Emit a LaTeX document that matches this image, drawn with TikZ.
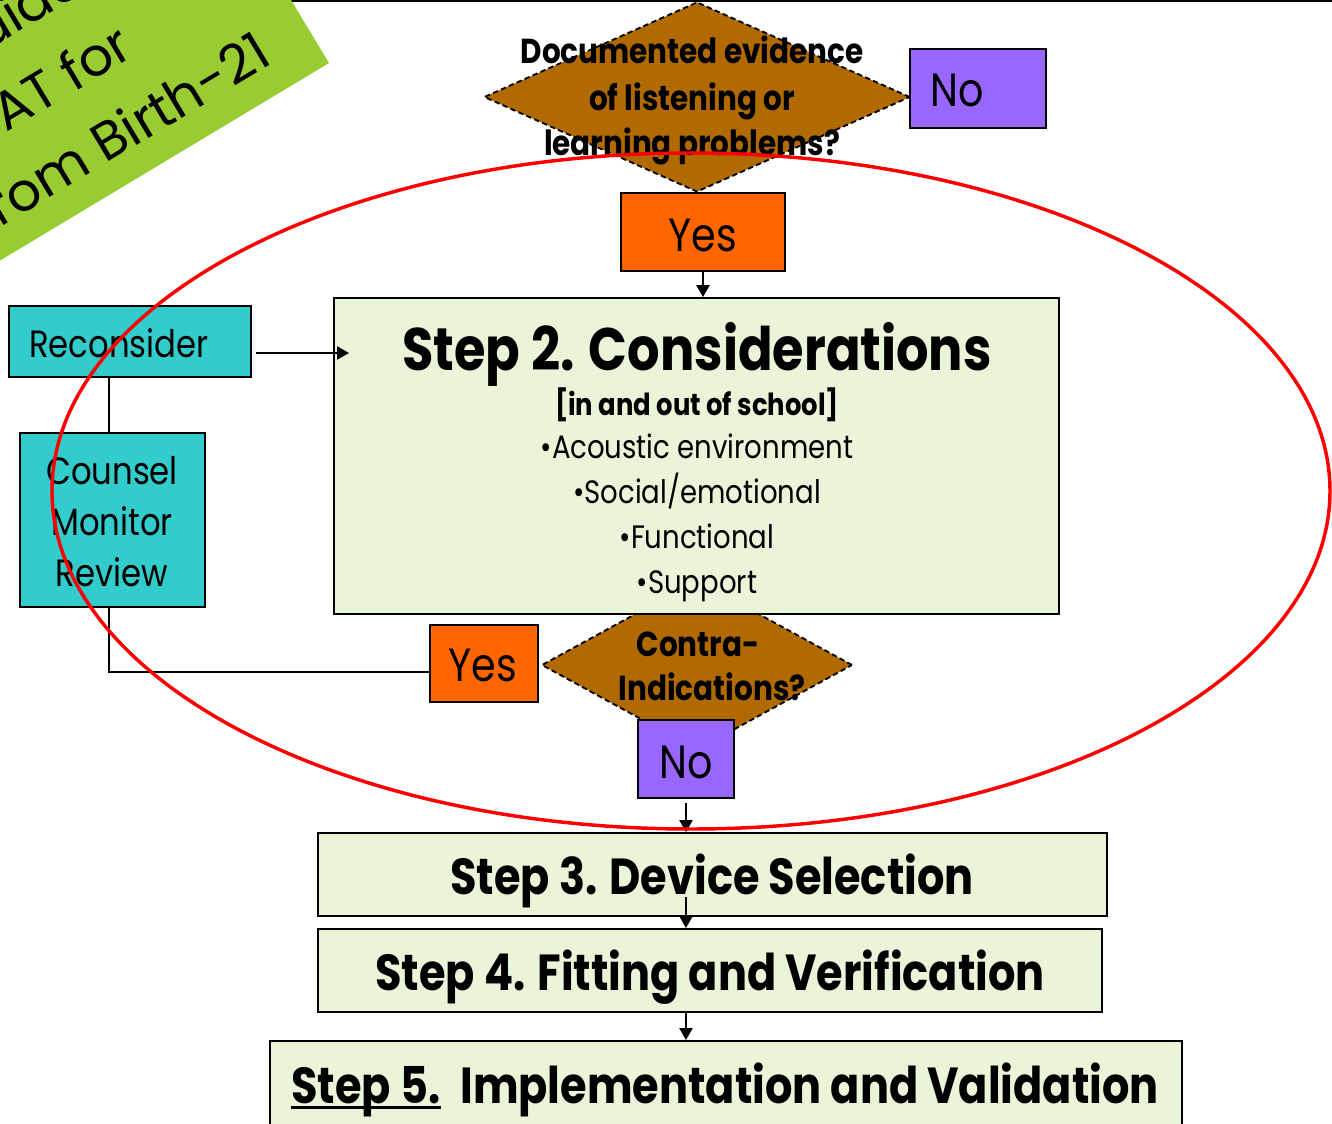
\documentclass[tikz,border=0pt]{standalone}
\usepackage{fontspec}
\setmainfont{Poppins}[FakeStretch=0.85]
\newfontfamily\bannerfont{Poppins}
\usetikzlibrary{arrows.meta,shapes.geometric,fit,calc}

\definecolor{bannergreen}{RGB}{153,204,51}
\definecolor{decbrown}{RGB}{176,106,0}
\definecolor{nopurple}{RGB}{153,102,255}
\definecolor{yesorange}{RGB}{255,102,0}
\definecolor{tealbox}{RGB}{51,204,204}
\definecolor{stepgreen}{RGB}{234,244,216}

\tikzset{
  box/.style={draw=black, line width=1.5pt, inner sep=0pt},
  decision/.style={diamond, fill=decbrown, draw=black, line width=1.4pt,
    dash pattern=on 4pt off 2.5pt, inner sep=0pt},
  arr/.style={-{Triangle[length=9pt,width=10pt]}, line width=1.1pt},
  link/.style={line width=1.1pt},
  txt/.style={inner sep=0pt, anchor=base},
  fbanner/.style={font=\bannerfont\fontsize{40}{40}\selectfont,
    rotate=31, inner sep=0pt, anchor=base east},
  fq/.style={font=\bfseries\fontsize{26}{26}\selectfont},
  fyn/.style={font=\fontsize{35}{35}\selectfont},
  fside/.style={font=\fontsize{28.5}{28.5}\selectfont},
  ftitle/.style={font=\bfseries\fontsize{45}{45}\selectfont},
  fsub/.style={font=\bfseries\fontsize{22.8}{22.8}\selectfont},
  fitem/.style={font=\fontsize{24.3}{24.3}\selectfont},
  fstep/.style={font=\bfseries\fontsize{38}{38}\selectfont},
}

\begin{document}
\begin{tikzpicture}[x=0.75pt,y=-0.75pt]
\useasboundingbox (0,0) rectangle (1332,1124);
\begin{scope}
\clip (0,0) rectangle (1332,1124);
\fill[white] (0,0) rectangle (1332,1124);

% rule along the top edge
\draw[line width=1.5pt] (0,1) -- (1332,1);

% tilted title banner
\fill[bannergreen] (329,63) -- (162,-214) -- (-394,120) -- (-228,397.5) -- cycle;
\node[fbanner] (ban1) at (86,-8.5) {Guide};
\node[fbanner] (ban2) at (135.7,55) {AT for};
\node[fbanner] (ban3) at (274.4,62.6) {from Birth-21};

% first decision
\node[decision, minimum width=319.5pt, minimum height=142.5pt] (dec1) at (697,97) {};
\node[fq, txt] (q1a) at (692,64) {Documented evidence};
\node[fq, txt] (q1b) at (692,110) {of listening or};
\node[fq, txt] (q1c) at (692,155) {learning problems?};

\node[box, fill=nopurple, line width=2pt, fit={(910,49) (1046,128)}] (no1) {};
\node[fyn, txt, anchor=base west] (no1t) at (930,107) {No};

\node[box, fill=yesorange, fit={(621,193) (785,271)}] (yes1) {};
\node[fyn, txt] (yes1t) at (703,251) {Yes};

% second decision (partly hidden behind the boxes)
\node[decision, minimum width=233pt, minimum height=127.5pt] (dec2) at (697,665) {};

% step 2
\node[box, fill=stepgreen, fit={(334,298) (1059,614)}] (step2) {};
\node[ftitle, txt] (s2t) at (697,370) {Step 2. Considerations};
\node[fsub, txt] (s2s) at (697,415) {[in and out of school]};
\node[fitem, txt] (s2a) at (697,458) {•Acoustic environment};
\node[fitem, txt] (s2b) at (697,503) {•Social/emotional};
\node[fitem, txt] (s2c) at (697,548) {•Functional};
\node[fitem, txt] (s2d) at (697,593) {•Support};

\draw[arr] (yes1.south) -- (step2.north -| yes1.south);

\node[fq, txt] (q2a) at (698,656) {Contra-};
\node[fq, txt] (q2b) at (712,700) {Indications?};

\node[box, fill=nopurple, fit={(638,720) (734,798)}] (no2) {};
\node[fyn, txt] (no2t) at (686,778) {No};

\node[box, fill=yesorange, fit={(430,625) (538,702)}] (yes2) {};
\node[fyn, txt] (yes2t) at (483,681) {Yes};

% side loop
\node[box, fill=tealbox, fit={(9,306) (251,377)}] (recon) {};
\node[fside, txt, anchor=base west] (recont) at (29,357) {Reconsider};

\node[box, fill=tealbox, fit={(20,433) (205,607)}] (counsel) {};
\node[fside, txt] (c1) at (112,484) {Counsel};
\node[fside, txt] (c2) at (112,535) {Monitor};
\node[fside, txt] (c3) at (112,586) {Review};

\coordinate (loopx) at (109,0);
\coordinate (rtip) at (349,353);
\coordinate (yesin) at (430,672);
\draw[link] (recon.south -| loopx) -- (counsel.north -| loopx);
\draw[link] (counsel.south -| loopx) |- (yes2.west |- yesin);
\draw[arr] ($(recon.east |- rtip)+(4,0)$) -- (rtip);

% later steps
\node[box, fill=stepgreen, fit={(318,833) (1107,916)}] (step3) {};
\node[fstep, txt] (s3t) at (712,894) {Step 3. Device Selection};

\node[box, fill=stepgreen, fit={(318,929) (1102,1012)}] (step4) {};
\node[fstep, txt] (s4t) at (710,990) {Step 4. Fitting and Verification};

\node[box, fill=stepgreen, fit={(270,1041) (1182,1140)}] (step5) {};
\node[fstep, txt, anchor=base west] (s5a) at (291,1103) {Step 5.};
\node[fstep, txt, anchor=base east] (s5b) at (1159,1103) {Implementation and Validation};
\draw[line width=2.3pt] ([yshift=-3.2pt]s5a.base west) -- ([yshift=-3.2pt]s5a.base east);

\draw[arr] ($(no2.south)+(0,4)$) -- (step3.north -| no2.south);
\coordinate (s3mid) at (686,897);
\draw[arr] (s3mid) -- (step4.north -| s3mid);
\draw[arr] (step4.south -| s3mid) -- (step5.north -| s3mid);

% highlight ring
\draw[red, line width=2.6pt] (691,491) ellipse [x radius=479.25pt, y radius=253.5pt];
\end{scope}
\end{tikzpicture}
\end{document}
